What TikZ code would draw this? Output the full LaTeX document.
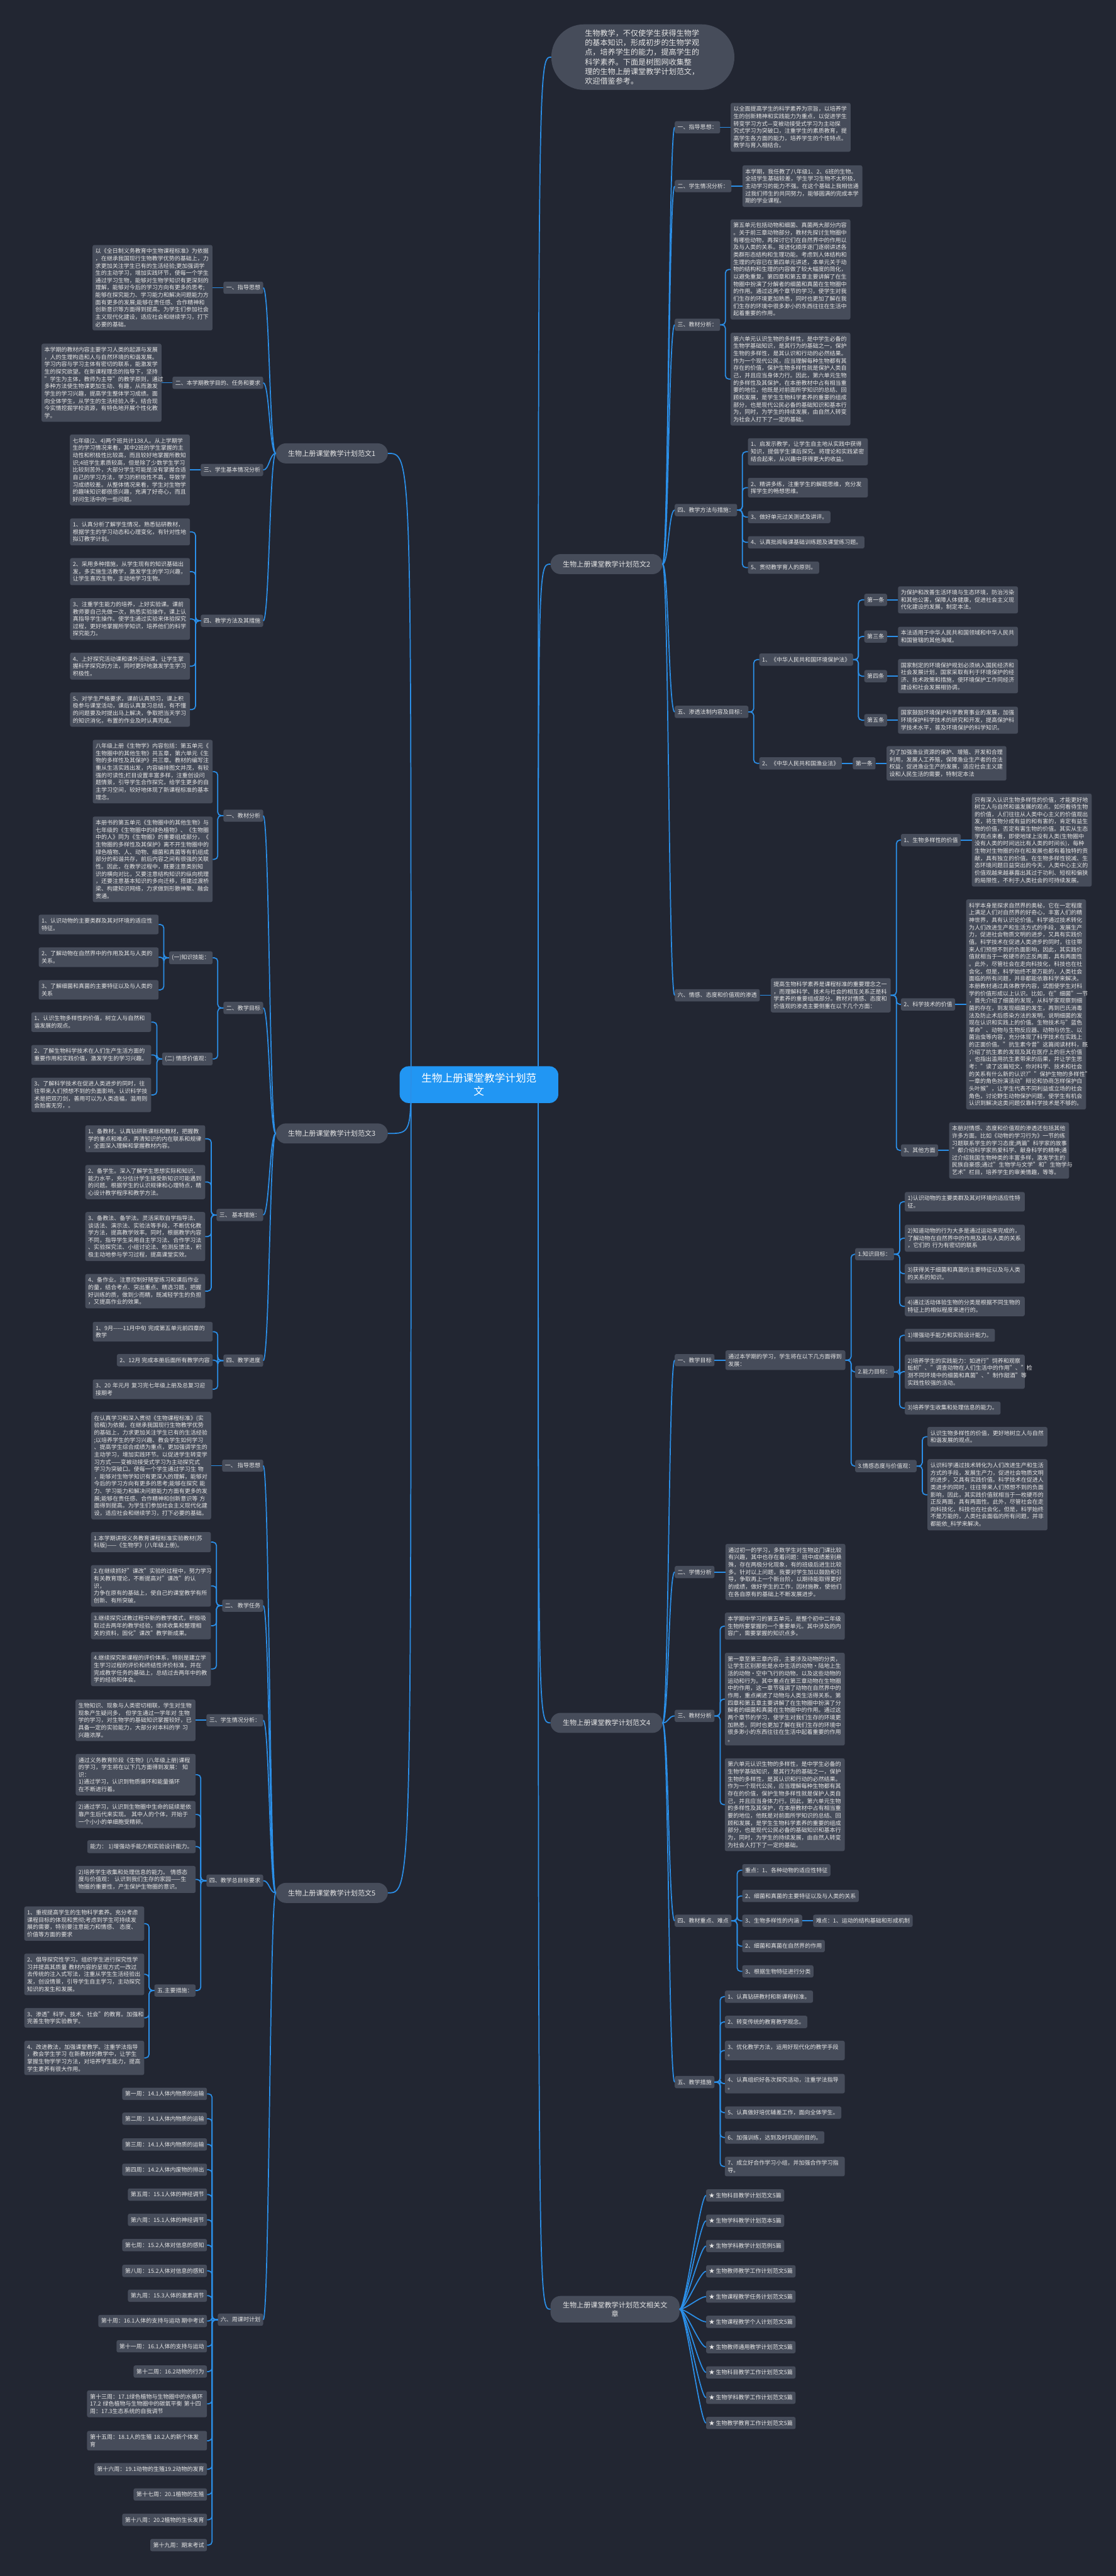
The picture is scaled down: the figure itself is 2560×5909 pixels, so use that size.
\documentclass[tikz,border=0pt]{standalone}
\usepackage{fontspec}
\setmainfont{Noto Sans CJK SC}
\usetikzlibrary{positioning,calc}
\definecolor{bgc}{HTML}{222632}
\definecolor{boxc}{HTML}{464C5A}
\definecolor{linec}{HTML}{2B8FE8}
\definecolor{rootc}{HTML}{2196F3}
\definecolor{txtc}{HTML}{E6E6E6}

\begin{document}
\begin{tikzpicture}[x=1pt, y=-1pt,
    every node/.style={font=\fontsize{13}{16.8}\selectfont, text=txtc},
    box/.style={fill=boxc, rounded corners=4pt, inner xsep=6.5pt, inner ysep=8pt},
    txt/.style={box, text width=262pt, align=left},
    main/.style={fill=boxc, rounded corners=23pt, font=\fontsize{16}{20}\selectfont, inner xsep=28pt, minimum height=46pt, align=center},
    rootbox/.style={fill=rootc, text=white, rounded corners=20pt, font=\fontsize{24}{30}\selectfont, align=center, inner xsep=50pt, inner ysep=16pt},
    introbox/.style={fill=boxc, rounded corners=75pt, font=\fontsize{17.5}{22}\selectfont, text width=266pt, align=left, inner xsep=77pt, inner ysep=12pt},
    link/.style={draw=linec, line width=2.5pt},
    elbow/.style={link, rounded corners=8pt}]

\fill[bgc] (0,0) rectangle (2560,5909);
\useasboundingbox (0,0) rectangle (2560,5909);

% centre and intro
\node[rootbox] (root) at (1099,2488) {生物上册课堂教学计划范\\文};
\node[introbox] (intro) at (1475,131) {生物教学，不仅使学生获得生物学\\的基本知识，形成初步的生物学观\\点，培养学生的能力，提高学生的\\科学素养。下面是树图网收集整\\理的生物上册课堂教学计划范文，\\欢迎借鉴参考。};

% level one
\node[main, anchor=west] (p2) at (1263,1294) {生物上册课堂教学计划范文2};
\node[main, anchor=west] (p4) at (1263,3952) {生物上册课堂教学计划范文4};
\node[main, anchor=west, minimum height=61pt] (p6) at (1263,5297) {生物上册课堂教学计划范文相关文\\章};
\node[main, anchor=east] (p1) at (890,1040) {生物上册课堂教学计划范文1};
\node[main, anchor=east] (p3) at (890,2600) {生物上册课堂教学计划范文3};
\node[main, anchor=east] (p5) at (890,4342) {生物上册课堂教学计划范文5};

% ---------- 范文2 ----------
\node[box, anchor=west] (a1) at (1548,292) {一、指导思想：};
\node[txt, right=24pt of a1] (a1t) {以全面提高学生的科学素养为宗旨，以培养学\\生的创新精神和实践能力为重点，以促进学生\\转变学习方式—变被动接受式学习为主动探\\究式学习为突破口，注重学生的素质教育，提\\高学生各方面的能力，培养学生的个性特点。\\教学与育入相结合。};
\node[box, anchor=west] (a2) at (1548,427) {二、学生情况分析：};
\node[txt, right=25pt of a2] (a2t) {本学期，我任教了八年级1、2、6班的生物。\\全班学生基础较差，学生学习生物不太积极，\\主动学习的能力不强。在这个基础上我相信通\\过我们师生的共同努力，能够圆满的完成本学\\期的学业课程。};
\node[box, anchor=west] (a3) at (1548,745) {三、教材分析：};
\node[txt, anchor=north west] (a3t1) at (1676,503) {第五单元包括动物和细菌、真菌两大部分内容\\。关于前三章动物部分，教材先探讨生物圈中\\有哪些动物，再探讨它们在自然界中的作用以\\及与人类的关系。按进化顺序逐门逐纲讲述各\\类群形态结构和生理功能。考虑到人体结构和\\生理的内容已在第四单元讲述，本单元关于动\\物的结构和生理的内容做了较大幅度的简化，\\以避免重复。第四章和第五章主要讲解了在生\\物圈中扮演了分解者的细菌和真菌在生物圈中\\的作用。通过这两个章节的学习，使学生对我\\们生存的环境更加熟悉，同时也更加了解在我\\们生存的环境中很多渺小的东西往往在生活中\\起着重要的作用。};
\node[txt, anchor=north west] (a3t2) at (1676,763) {第六单元认识生物的多样性，是中学生必备的\\生物学基础知识，是其行为的基础之一，保护\\生物的多样性，是其认识和行动的必然结果。\\作为一个现代公民，应当理解每种生物都有其\\存在的价值，保护生物多样性就是保护人类自\\己，并且应当身体力行。因此，第六单元生物\\的多样性及其保护，在本册教材中占有相当重\\要的地位，他既是对前面所学知识的总结、回\\顾和发展，是学生生物科学素养的重要的组成\\部分，也是现代公民必备的基础知识和基本行\\为，同时，为学生的持续发展，由自然人转变\\为社会人打下了一定的基础。};
\node[box, anchor=west] (a4) at (1548,1170) {四、教学方法与措施：};
\node[txt, anchor=north west] (a4i1) at (1716,1005) {1、启发示教学，让学生自主地从实践中获得\\知识，提倡学生课后探究。将理论和实践紧密\\结合起来，从兴趣中获得更大的收益。};
\node[txt, anchor=north west] (a4i2) at (1716,1096) {2、精讲多练，注重学生的解题思维，充分发\\挥学生的畅想思维。};
\node[box, anchor=west] (a4i3) at (1716,1186) {3、做好单元过关测试及讲评。};
\node[box, anchor=west] (a4i4) at (1716,1244) {4、认真批阅每课基础训练题及课堂练习题。};
\node[box, anchor=west] (a4i5) at (1716,1302) {5、贯彻教学育人的原则。};
\node[box, anchor=west] (a5) at (1548,1633) {五、渗透法制内容及目标：};
\node[box, anchor=west] (a5b1) at (1742,1513) {1、《中华人民共和国环境保护法》};
\node[box, anchor=west] (k1) at (1983,1376) {第一条};
\node[txt, right=25pt of k1] (k1t) {为保护和改善生活环境与生态环境，防治污染\\和其他公害，保障人体健康，促进社会主义现\\代化建设的发展，制定本法。};
\node[box, anchor=west] (k3) at (1983,1460) {第三条};
\node[txt, right=25pt of k3] (k3t) {本法适用于中华人民共和国领域和中华人民共\\和国管辖的其他海域。};
\node[box, anchor=west] (k4) at (1983,1551) {第四条};
\node[txt, right=25pt of k4] (k4t) {国家制定的环境保护规划必须纳入国民经济和\\社会发展计划，国家采取有利于环境保护的经\\济、技术政策和措施，使环境保护工作同经济\\建设和社会发展相协调。};
\node[box, anchor=west] (k5) at (1983,1652) {第五条};
\node[txt, right=25pt of k5] (k5t) {国家鼓励环境保护科学教育事业的发展，加强\\环境保护科学技术的研究和开发，提高保护科\\学技术水平，普及环境保护的科学知识。};
\node[box, anchor=west] (a5b2) at (1742,1751) {2、《中华人民共和国渔业法》};
\node[box, right=25pt of a5b2] (y1) {第一条};
\node[txt, right=25pt of y1] (y1t) {为了加强渔业资源的保护、增殖、开发和合理\\利用，发展人工养殖，保障渔业生产者的合法\\权益，促进渔业生产的发展，适应社会主义建\\设和人民生活的需要，特制定本法};
\node[box, anchor=west] (a6) at (1548,2283) {六、情感、态度和价值观的渗透};
\node[txt, right=25pt of a6] (a6t) {提高生物科学素养是课程标准的重要理念之一\\，而理解科学、技术与社会的相互关系正是科\\学素养的重要组成部分。教材对情感、态度和\\价值观的渗透主要侧重在以下几个方面：};
\node[box, anchor=west] (v1) at (2067,1927) {1、生物多样性的价值};
\node[txt, right=25pt of v1] (v1t) {只有深入认识生物多样性的价值，才能更好地\\树立人与自然和谐发展的观点。如何看待生物\\的价值，人们往往从人类中心主义的价值观出\\发，将生物分成有益的和有害的，肯定有益生\\物的价值，否定有害生物的价值。其实从生态\\学观点来看，即使地球上没有人类(生物圈中\\没有人类的时间远比有人类的时间长)，每种\\生物对生物圈的存在和发展也都有着独特的贡\\献，具有独立的价值。在生物多样性锐减、生\\态环境问题日益突出的今天，人类中心主义的\\价值观越来越暴露出其过于功利、短视和偏狭\\的局限性，不利于人类社会的可持续发展。};
\node[box, anchor=west] (v2) at (2067,2304) {2、科学技术的价值};
\node[txt, right=25pt of v2] (v2t) {科学本身是探求自然界的奥秘，它在一定程度\\上满足人们对自然界的好奇心，丰富人们的精\\神世界，具有认识论价值。科学通过技术转化\\为人们改进生产和生活方式的手段，发展生产\\力，促进社会物质文明的进步，又具有实践价\\值。科学技术在促进人类进步的同时，往往带\\来人们预想不到的负面影响，因此，其实践价\\值就相当于一枚硬币的正反两面，具有两面性\\。此外，尽管社会在走向科技化，科技也在社\\会化，但是，科学始终不是万能的，人类社会\\面临的所有问题，并非都能依靠科学来解决。\\本册教材通过具体教学内容，试图使学生对科\\学的价值形成以上认识。比如，在"细菌"一节\\，首先介绍了细菌的发现，从科学家观察到细\\菌的存在，到发现细菌的发生，再到巴氏消毒\\法及防止术后感染方法的发明，说明细菌的发\\现在认识和实践上的价值。生物技术与"蓝色\\革命"、动物与生物反应器、动物与仿生、以\\菌治虫等内容，充分体现了科学技术在实践上\\的正面价值。"抗生素今昔"这篇阅读材料，既\\介绍了抗生素的发现及其在医疗上的巨大价值\\，也指出滥用抗生素带来的后果，并让学生思\\考："读了这篇短文，你对科学、技术和社会\\的关系有什么新的认识?""保护生物的多样性"\\一章的角色扮演活动"辩论和协商怎样保护白\\头叶猴"，让学生代表不同利益或立场的社会\\角色，讨论野生动物保护问题，使学生有机会\\认识到解决这类问题仅靠科学技术是不够的。};
\node[box, anchor=west] (v3) at (2067,2639) {3、其他方面};
\node[txt, right=25pt of v3] (v3t) {本册对情感、态度和价值观的渗透还包括其他\\许多方面。比如《动物的学习行为》一节的练\\习题联系学生的学习态度;两篇"科学家的故事\\"都介绍科学家热爱科学、献身科学的精神;通\\过介绍我国生物种类的丰富多样，激发学生的\\民族自豪感;通过"生物学与文学"和"生物学与\\艺术"栏目，培养学生的审美情趣，等等。};

% ---------- 范文4 ----------
\node[box, anchor=west] (b1) at (1548,3120) {一、教学目标};
\node[txt, right=25pt of b1] (b1t) {通过本学期的学习，学生将在以下几方面得到\\发展：};
\node[box, anchor=west] (b1k) at (1962,2877) {1.知识目标：};
\node[txt, anchor=north west] (b1k1) at (2076,2734) {1)认识动物的主要类群及其对环境的适应性特\\征。};
\node[txt, anchor=north west] (b1k2) at (2076,2809) {2)知道动物的行为大多是通过运动来完成的，\\了解动物在自然界中的作用及其与人类的关系\\，它们的 行为有密切的联系};
\node[txt, anchor=north west] (b1k3) at (2076,2899) {3)获得关于细菌和真菌的主要特征以及与人类\\的关系的知识。};
\node[txt, anchor=north west] (b1k4) at (2076,2974) {4)通过活动体验生物的分类是根据不同生物的\\特征上的相似程度来进行的。};
\node[box, anchor=west] (b1n) at (1962,3147) {2.能力目标：};
\node[box, anchor=west] (b1n1) at (2076,3063) {1)增强动手能力和实验设计能力。};
\node[txt, anchor=north west] (b1n2) at (2076,3107) {2)培养学生的实践能力：如进行"饲养和观察\\蚯蚓"、"调查动物在人们生活中的作用"、"检\\测不同环境中的细菌和真菌"、"制作甜酒"等\\实践性较强的活动。};
\node[box, anchor=west] (b1n3) at (2076,3230) {3)培养学生收集和处理信息的能力。};
\node[box, anchor=west] (b1q) at (1962,3363) {3.情感态度与价值观：};
\node[txt, anchor=north west] (b1q1) at (2128,3273) {认识生物多样性的价值，更好地树立人与自然\\和谐发展的观点。};
\node[txt, anchor=north west] (b1q2) at (2128,3347) {认识科学通过技术转化为人们改进生产和生活\\方式的手段，发展生产力，促进社会物质文明\\的进步，又具有实践价值。科学技术在促进人\\类进步的同时，往往带来人们预想不到的负面\\影响，因此，其实践价值就相当于一枚硬币的\\正反两面，具有两面性。此外，尽管社会在走\\向科技化，科技也在社会化，但是，科学始终\\不是万能的，人类社会面临的所有问题，并非\\都能依\_科学来解决。};
\node[box, anchor=west] (b2) at (1548,3606) {二、学情分析};
\node[txt, right=25pt of b2] (b2t) {通过初一的学习，多数学生对生物这门课比较\\有兴趣，其中也存在着问题：班中成绩差别悬\\殊，存在两极分化现象，有的班级后进生比较\\多。针对以上问题，我要对学生加以鼓励和引\\导，争取再上一个新台阶，以期待能取得更好\\的成绩，做好学生的工作，因材施教，使他们\\在各自原有的基础上不断发展进步。};
\node[box, anchor=west] (b3) at (1548,3936) {三、教材分析};
\node[txt, anchor=north west] (b3t1) at (1663,3699) {本学期中学习的第五单元，是整个初中二年级\\生物所要掌握的一个重要单元。其中涉及的内\\容广，需要掌握的知识点多。};
\node[txt, anchor=north west] (b3t2) at (1663,3791) {第一章至第三章内容，主要涉及动物的分类，\\让学生区别那些是水中生活的动物·陆地上生\\活的动物·空中飞行的动物，以及这些动物的\\运动和行为。其中重点在第三章动物在生物圈\\中的作用，这一章节强调了动物在自然界中的\\作用，重点阐述了动物与人类生活得关系。第\\四章和第五章主要讲解了在生物圈中扮演了分\\解者的细菌和真菌在生物圈中的作用。通过这\\两个章节的学习，使学生对我们生存的环境更\\加熟悉，同时也更加了解在我们生存的环境中\\很多渺小的东西往往在生活中起着重要的作用\\。};
\node[txt, anchor=north west] (b3t3) at (1663,4033) {第六单元认识生物的多样性，是中学生必备的\\生物学基础知识，是其行为的基础之一，保护\\生物的多样性，是其认识和行动的必然结果。\\作为一个现代公民，应当理解每种生物都有其\\存在的价值，保护生物多样性就是保护人类自\\己，并且应当身体力行。因此，第六单元生物\\的多样性及其保护，在本册教材中占有相当重\\要的地位，他既是对前面所学知识的总结、回\\顾和发展，是学生生物科学素养的重要的组成\\部分，也是现代公民必备的基础知识和基本行\\为，同时，为学生的持续发展，由自然人转变\\为社会人打下了一定的基础。};
\node[box, anchor=west] (b4) at (1548,4406) {四、教材重点、难点};
\node[box, anchor=west] (b4i1) at (1703,4290) {重点：1、各种动物的适应性特征};
\node[box, anchor=west] (b4i2) at (1703,4349) {2、细菌和真菌的主要特征以及与人类的关系};
\node[box, anchor=west] (b4i3) at (1703,4406) {3、生物多样性的内涵};
\node[box, right=25pt of b4i3] (b4x) {难点：1、运动的结构基础和形成机制};
\node[box, anchor=west] (b4i4) at (1703,4464) {2、细菌和真菌在自然界的作用};
\node[box, anchor=west] (b4i5) at (1703,4522) {3、根据生物特征进行分类};
\node[box, anchor=west] (b5) at (1548,4776) {五、教学措施};
\node[box, anchor=west] (b5i1) at (1663,4580) {1、认真钻研教村和新课程标准。};
\node[box, anchor=west] (b5i2) at (1663,4638) {2、转变传统的教育教学观念。};
\node[txt, anchor=north west] (b5i3) at (1663,4681) {3、优化教学方法，运用好现代化的教学手段\\。};
\node[txt, anchor=north west] (b5i4) at (1663,4757) {4、认真组织好各次探究活动，注重学法指导\\。};
\node[box, anchor=west] (b5i5) at (1663,4846) {5、认真做好培优辅差工作，面向全体学生。};
\node[box, anchor=west] (b5i6) at (1663,4903) {6、加强训练，达到及时巩固的目的。};
\node[txt, anchor=north west] (b5i7) at (1663,4947) {7、成立好合作学习小组，并加强合作学习指\\导。};

% ---------- related ----------
\node[box, anchor=west] (r1) at (1620,5036) {★ 生物科目教学计划范文5篇};
\node[box, anchor=west] (r2) at (1620,5094) {★ 生物学科教学计划范本5篇};
\node[box, anchor=west] (r3) at (1620,5152) {★ 生物学科教学计划范例5篇};
\node[box, anchor=west] (r4) at (1620,5210) {★ 生物教师教学工作计划范文5篇};
\node[box, anchor=west] (r5) at (1620,5268) {★ 生物课程教学任务计划范文5篇};
\node[box, anchor=west] (r6) at (1620,5326) {★ 生物课程教学个人计划范文5篇};
\node[box, anchor=west] (r7) at (1620,5384) {★ 生物教师通用教学计划范文5篇};
\node[box, anchor=west] (r8) at (1620,5442) {★ 生物科目教学工作计划范文5篇};
\node[box, anchor=west] (r9) at (1620,5500) {★ 生物学科教学工作计划范文5篇};
\node[box, anchor=west] (r10) at (1620,5558) {★ 生物教学教育工作计划范文5篇};

% ---------- 范文1 ----------
\node[box, anchor=east] (c1) at (604,660) {一、指导思想};
\node[txt, left=25pt of c1] (c1t) {以《全日制义务教育中生物课程标准》为依据\\，在继承我国现行生物教学优势的基础上，力\\求更加关注学生已有的生活经验;更加强调学\\生的主动学习，增加实践环节，使每一个学生\\通过学习生物，能够对生物学知识有更深刻的\\理解，能够对今后的学习方向有更多的思考;\\能够在探究能力、学习能力和解决问题能力方\\面有更多的发展;能够在责任感、合作精神和\\创新意识等方面得到提高。为学生们参加社会\\主义现代化建设，适应社会和继续学习，打下\\必要的基础。};
\node[box, anchor=east] (c2) at (604,878) {二、本学期教学目的、任务和要求};
\node[txt, left=25pt of c2] (c2t) {本学期的教材内容主要学习人类的起源与发展\\，人的生理构造和人与自然环境的和谐发展。\\学习内容与学习主体有密切的联系，能激发学\\生的探究欲望。在新课程理念的指导下，坚持\\"学生为主体，教师为主导"的教学原则，通过\\多种方法使生物课更加生动、有趣，从而激发\\学生的学习兴趣，提高学生整体学习成绩。面\\向全体学生，从学生的生活经验入手，结合现\\今实情挖掘学校资源，有特色地开展个性化教\\学。};
\node[box, anchor=east] (c3) at (604,1078) {三、学生基本情况分析};
\node[txt, left=25pt of c3] (c3t) {七年级(2、4)两个班共计138人。从上学期学\\生的学习情况来看，其中2班的学生掌握的主\\动性和积极性比较高，而且较好地掌握所教知\\识;4班学生素质较高，但是除了少数学生学习\\比较刻苦外，大部分学生可能是没有掌握合适\\自己的学习方法，学习的积极性不高，导致学\\习成绩较差。从整体情况来看，学生对生物学\\的趣味知识都很感兴趣，充满了好奇心，而且\\好问生活中的一些问题。};
\node[box, anchor=east] (c4) at (604,1424) {四、教学方法及其措施};
\node[txt, anchor=north east] (c4i1) at (436,1189) {1、认真分析了解学生情况，熟悉钻研教材，\\根据学生的学习动态和心理变化，有针对性地\\拟订教学计划。};
\node[txt, anchor=north east] (c4i2) at (436,1280) {2、采用多种措施，从学生现有的知识基础出\\发，多实施生活教学，激发学生的学习兴趣，\\让学生喜欢生物，主动地学习生物。};
\node[txt, anchor=north east] (c4i3) at (436,1372) {3、注重学生能力的培养，上好实验课。课前\\教师要自己先做一次，熟悉实验操作，课上认\\真指导学生操作。使学生通过实验来体验探究\\过程，更好地掌握所学知识，培养他们的科学\\探究能力。};
\node[txt, anchor=north east] (c4i4) at (436,1497) {4、上好探究活动课和课外活动课，让学生掌\\握科学探究的方法，同时更好地激发学生学习\\积极性。};
\node[txt, anchor=north east] (c4i5) at (436,1588) {5、对学生严格要求，课前认真预习，课上积\\极参与课堂活动，课后认真复习总结，有不懂\\的问题要及时提出马上解决，争取把当天学习\\的知识消化，布置的作业及时认真完成。};

% ---------- 范文3 ----------
\node[box, anchor=east] (d1) at (604,1871) {一、教材分析};
\node[txt, anchor=north east] (d1t1) at (488,1697) {八年级上册《生物学》内容包括：第五单元《\\生物圈中的其他生物》共五章，第六单元《生\\物的多样性及其保护》共三章。教材的编写注\\重从生活实践出发，内容编排图文并茂，有较\\强的可读性;栏目设置丰富多样，注重创设问\\题情景，引导学生合作探究，给学生更多的自\\主学习空间，较好地体现了新课程标准的基本\\理念。};
\node[txt, anchor=north east] (d1t2) at (488,1873) {本册书的第五单元《生物圈中的其他生物》与\\七年级的《生物圈中的绿色植物》、《生物圈\\中的人》同为《生物圈》的重要组成部分，《\\生物圈的多样性及其保护》离不开生物圈中的\\绿色植物、人、动物、细菌和真菌等有机组成\\部分的和谐共存，前后内容之间有很强的关联\\性。因此，在教学过程中，既要注意类别知\\识的横向对比，又要注意结构知识的纵向梳理\\，还要注意基本知识的多向迁移，搭建过渡桥\\梁、构建知识网络，力求做到形散神聚、融会\\贯通。};
\node[box, anchor=east] (d2) at (604,2312) {二、教学目标};
\node[box, anchor=east] (d2k) at (488,2197) {(一)知识技能：};
\node[txt, anchor=north east] (d2k1) at (364,2098) {1、认识动物的主要类群及其对环境的适应性\\特征。};
\node[txt, anchor=north east] (d2k2) at (364,2173) {2、了解动物在自然界中的作用及其与人类的\\关系。};
\node[txt, anchor=north east] (d2k3) at (364,2248) {3、了解细菌和真菌的主要特征以及与人类的\\关系};
\node[box, anchor=east] (d2q) at (488,2429) {(二) 情感价值观：};
\node[txt, anchor=north east] (d2q1) at (347,2322) {1、认识生物多样性的价值，树立人与自然和\\谐发展的观点。};
\node[txt, anchor=north east] (d2q2) at (347,2397) {2、了解生物科学技术在人们生产生活方面的\\重要作用和实践价值，激发学生的学习兴趣。};
\node[txt, anchor=north east] (d2q3) at (347,2472) {3、了解科学技术在促进人类进步的同时，往\\往带来人们预想不到的负面影响，认识科学技\\术是把双刃剑，善用可以为人类造福，滥用则\\会贻害无穷，。};
\node[box, anchor=east] (d3) at (604,2787) {三、 基本措施：};
\node[txt, anchor=north east] (d3i1) at (471,2581) {1、备教材。认真钻研新课标和教材，把握教\\学的重点和难点，弄清知识的内在联系和规律\\，全面深入理解和掌握教材内容。};
\node[txt, anchor=north east] (d3i2) at (471,2672) {2、备学生。深入了解学生思想实际和知识、\\能力水平，充分估计学生接受新知识可能遇到\\的问题。根据学生的认识规律和心理特点，精\\心设计教学程序和教学方法。};
\node[txt, anchor=north east] (d3i3) at (471,2780) {3、备教法、备学法。灵活采取自学指导法、\\谈话法、演示法、实验法等手段，不断优化教\\学方法，提高教学效率。同时，根据教学内容\\不同，指导学生采用自主学习法、合作学习法\\、实验探究法、小组讨论法、检测反馈法，积\\极主动地参与学习过程，提高课堂实效。};
\node[txt, anchor=north east] (d3i4) at (471,2922) {4、备作业。注意控制好随堂练习和课后作业\\的量，结合考点、突出重点、精选习题，把握\\好训练的质，做到少而精，既减轻学生的负担\\，又提高作业的效果。};
\node[box, anchor=east] (d4) at (604,3121) {四、教学进度};
\node[txt, anchor=north east] (d4i1) at (488,3032) {1、9月{-}{-}{-}{-}{-}11月中旬 完成第五单元前四章的\\教学};
\node[box, anchor=east] (d4i2) at (488,3120) {2、12月 完成本册后面所有教学内容};
\node[txt, anchor=north east] (d4i3) at (488,3164) {3、20 年元月 复习完七年级上册及总复习迎\\接期考};

% ---------- 范文5 ----------
\node[box, anchor=east] (e1) at (604,3362) {一、 指导思想};
\node[txt, left=25pt of e1] (e1t) {在认真学习和深入贯彻《生物课程标准》(实\\验稿)为依据，在继承我国现行生物教学优势\\的基础上，力求更加关注学生已有的生活经验\\;以培养学生的学习兴趣、教会学生如何学习\\、提高学生综合成绩为重点，更加强调学生的\\主动学习，增加实践环节。以促进学生转变学\\习方式——变被动接受式学习为主动探究式\\学习为突破口。使每一个学生通过学习生 物\\，能够对生物学知识有更深入的理解，能够对\\今后的学习方向有更多的思考;能够在探究 能\\力、学习能力和解决问题能力方面有更多的发\\展;能够在责任感、合作精神和创新意识等 方\\面得到提高。为学生们参加社会主义现代化建\\设，适应社会和继续学习，打下必要的基础。};
\node[box, anchor=east] (e2) at (604,3683) {二、 教学任务};
\node[txt, anchor=north east] (e2i1) at (484,3514) {1.本学期讲授义务教育课程标准实验教材(苏\\科版)——《生物学》(八年级上册)。};
\node[txt, anchor=north east] (e2i2) at (484,3590) {2.在继续抓好"课改"实验的过程中，努力学习\\有关教育理论，不断提高对"课改"的认 识，\\力争在原有的基础上，使自己的课堂教学有所\\创新、有所突破。};
\node[txt, anchor=north east] (e2i3) at (484,3698) {3.继续探究试教过程中新的教学模式，积极吸\\取过去两年的教学经验，继续收集和整理相\\关的资料，固化"课改"教学新成果。};
\node[txt, anchor=north east] (e2i4) at (484,3789) {4.继续探究新课程的评价体系，特别是建立学\\生学习过程的评价和终结性评价标准，并在\\完成教学任务的基础上，总结过去两年中的教\\学的经验和体会。};
\node[box, anchor=east] (e3) at (604,3946) {三、学生情况分析：};
\node[txt, left=25pt of e3] (e3t) {生物知识、现象与人类密切相联，学生对生物\\现象产生疑问多， 但学生通过一学年对 生物\\学的学习，对生物学的基础知识掌握较好，已\\具备一定的实验能力，大部分对本科的学 习\\兴趣浓厚。};
\node[box, anchor=east] (e4) at (604,4314) {四、教学总目标要求};
\node[txt, anchor=north east] (e4i1) at (449,4023) {通过义务教育阶段《生物》(八年级上册)课程\\的学习，学生将在以下几方面得到发展： 知\\识： 1)通过学习，认识到物质循环和能量循环\\在不断进行着。};
\node[txt, anchor=north east] (e4i2) at (449,4131) {2)通过学习，认识到生物圈中生命的延续是依\\靠产生后代来实现。 其中人的个体，开始于\\一个小小的单细胞受精卵。};
\node[box, anchor=east] (e4i3) at (449,4236) {能力： 1)增强动手能力和实验设计能力。};
\node[txt, anchor=north east] (e4i4) at (449,4280) {2)培养学生收集和处理信息的能力。 情感态\\度与价值观： 认识到我们生存的家园——生\\物圈的重要性，产生保护生物圈的意识。};
\node[box, anchor=east] (e4m) at (449,4566) {五.主要措施：};
\node[txt, anchor=north east] (m1) at (331,4373) {1、重视提高学生的生物科学素养。充分考虑\\课程目标的体现和贯彻;考虑到学生可持续发\\展的需要，特别要注意能力和情感、 态度、\\价值等方面的要求};
\node[txt, anchor=north east] (m2) at (331,4481) {2、倡导探究性学习。组织学生进行探究性学\\习并提高其质量 教材内容的呈现方式一改过\\去传统的注入式写法，注重从学生生活经验出\\发，创设情景，引导学生自主学习，主动探究\\知识的发生和发展。};
\node[txt, anchor=north east] (m3) at (331,4606) {3、渗透"科学、技术、社会"的教育。加强和\\完善生物学实验教学。};
\node[txt, anchor=north east] (m4) at (331,4681) {4、改进教法，加强课堂教学。注重学法指导\\，教会学生学习 在新教材的教学中，让学生\\掌握生物学学习方法，对培养学生能力，提高\\学生素养有很大作用。};
\node[box, anchor=east] (e6) at (604,5321) {六、周课时计划};
\node[box, anchor=east] (w1) at (475,4803) {第一周：14.1人体内物质的运输};
\node[box, anchor=east] (w2) at (475,4860) {第二周：14.1人体内物质的运输};
\node[box, anchor=east] (w3) at (475,4919) {第三周：14.1人体内物质的运输};
\node[box, anchor=east] (w4) at (475,4977) {第四周：14.2人体内废物的排出};
\node[box, anchor=east] (w5) at (475,5034) {第五周：15.1人体的神经调节};
\node[box, anchor=east] (w6) at (475,5092) {第六周：15.1人体的神经调节};
\node[box, anchor=east] (w7) at (475,5150) {第七周：15.2人体对信息的感知};
\node[box, anchor=east] (w8) at (475,5209) {第八周：15.2人体对信息的感知};
\node[box, anchor=east] (w9) at (475,5266) {第九周：15.3人体的激素调节};
\node[box, anchor=east] (w10) at (475,5324) {第十周：16.1人体的支持与运动 期中考试};
\node[box, anchor=east] (w11) at (475,5382) {第十一周：16.1人体的支持与运动};
\node[box, anchor=east] (w12) at (475,5440) {第十二周：16.2动物的行为};
\node[txt, anchor=north east] (w13) at (475,5483) {第十三周：17.1绿色植物与生物圈中的水循环\\ 17.2 绿色植物与生物圈中的碳氧平衡 第十四\\周：17.3生态系统的自我调节};
\node[txt, anchor=north east] (w14) at (475,5576) {第十五周：18.1人的生殖 18.2人的新个体发\\育};
\node[box, anchor=east] (w15) at (475,5664) {第十六周：19.1动物的生殖19.2动物的发育};
\node[box, anchor=east] (w16) at (475,5722) {第十七周：20.1植物的生殖};
\node[box, anchor=east] (w17) at (475,5780) {第十八周：20.2植物的生长发育};
\node[box, anchor=east] (w18) at (475,5838) {第十九周：期末考试};

% ---------- connectors ----------
\coordinate (rtR) at ([xshift=136pt]root.north);
\coordinate (rbR) at ([xshift=136pt]root.south);
\coordinate (rtL) at ([xshift=-156pt]root.north);
\coordinate (rbL) at ([xshift=-156pt]root.south);
\foreach \n in {intro,p2} \draw[link] (rtR) .. controls (rtR |- \n.west) .. (\n.west);
\foreach \n in {p4,p6} \draw[link] (rbR) .. controls (rbR |- \n.west) .. (\n.west);
\foreach \n in {p1,p3} \draw[link] (rtL) .. controls (rtL |- \n.east) .. (\n.east);
\draw[link] (rbL) .. controls (rbL |- p5.east) .. (p5.east);

\foreach \n in {a1,a2,a3,a4,a5,a6} \draw[link] (p2.east) .. controls +(14,0) and +(-14,0) .. (\n.west);
\foreach \n in {b1,b2,b3,b4,b5} \draw[link] (p4.east) .. controls +(14,0) and +(-14,0) .. (\n.west);
\foreach \n in {r1,r2,r3,r4,r5,r6,r7,r8,r9,r10} \draw[link] (p6.east) .. controls +(14,0) and +(-14,0) .. (\n.west);
\foreach \n in {c1,c2,c3,c4} \draw[link] (p1.west) .. controls +(-14,0) and +(14,0) .. (\n.east);
\foreach \n in {d1,d2,d3,d4} \draw[link] (p3.west) .. controls +(-14,0) and +(14,0) .. (\n.east);
\foreach \n in {e1,e2,e3,e4,e6} \draw[link] (p5.west) .. controls +(-14,0) and +(14,0) .. (\n.east);

% right side branches
\foreach \a/\b in {a1/a1t,a2/a2t,a6/a6t,k1/k1t,k3/k3t,k4/k4t,k5/k5t,a5b2/y1,y1/y1t,v1/v1t,v2/v2t,v3/v3t,b1/b1t,b2/b2t,b4i3/b4x}
  \draw[link] (\a.east) -- (\b.west);
\foreach \n in {a3t1,a3t2} \draw[elbow] (a3.east) -- ++(12,0) |- (\n.west);
\foreach \n in {a4i1,a4i2,a4i3,a4i4,a4i5} \draw[elbow] (a4.east) -- ++(12,0) |- (\n.west);
\foreach \n in {a5b1,a5b2} \draw[elbow] (a5.east) -- ++(12,0) |- (\n.west);
\foreach \n in {k1,k3,k4,k5} \draw[elbow] (a5b1.east) -- ++(12,0) |- (\n.west);
\foreach \n in {v1,v2,v3} \draw[elbow] (a6t.east) -- ++(13,0) |- (\n.west);
\foreach \n in {b1k,b1n,b1q} \draw[elbow] (b1t.east) -- ++(13,0) |- (\n.west);
\foreach \n in {b1k1,b1k2,b1k3,b1k4} \draw[elbow] (b1k.east) -- ++(13,0) |- (\n.west);
\foreach \n in {b1n1,b1n2,b1n3} \draw[elbow] (b1n.east) -- ++(13,0) |- (\n.west);
\foreach \n in {b1q1,b1q2} \draw[elbow] (b1q.east) -- ++(13,0) |- (\n.west);
\foreach \n in {b3t1,b3t2,b3t3} \draw[elbow] (b3.east) -- ++(13,0) |- (\n.west);
\foreach \n in {b4i1,b4i2,b4i3,b4i4,b4i5} \draw[elbow] (b4.east) -- ++(13,0) |- (\n.west);
\foreach \n in {b5i1,b5i2,b5i3,b5i4,b5i5,b5i6,b5i7} \draw[elbow] (b5.east) -- ++(13,0) |- (\n.west);

% left side branches
\foreach \a/\b in {c1/c1t,c2/c2t,c3/c3t,e1/e1t,e3/e3t}
  \draw[link] (\a.west) -- (\b.east);
\foreach \n in {c4i1,c4i2,c4i3,c4i4,c4i5} \draw[elbow] (c4.west) -- ++(-12,0) |- (\n.east);
\foreach \n in {d1t1,d1t2} \draw[elbow] (d1.west) -- ++(-13,0) |- (\n.east);
\foreach \n in {d2k,d2q} \draw[elbow] (d2.west) -- ++(-13,0) |- (\n.east);
\foreach \n in {d2k1,d2k2,d2k3} \draw[elbow] (d2k.west) -- ++(-12,0) |- (\n.east);
\foreach \n in {d2q1,d2q2,d2q3} \draw[elbow] (d2q.west) -- ++(-12,0) |- (\n.east);
\foreach \n in {d3i1,d3i2,d3i3,d3i4} \draw[elbow] (d3.west) -- ++(-12,0) |- (\n.east);
\foreach \n in {d4i1,d4i2,d4i3} \draw[elbow] (d4.west) -- ++(-13,0) |- (\n.east);
\foreach \n in {e2i1,e2i2,e2i3,e2i4} \draw[elbow] (e2.west) -- ++(-13,0) |- (\n.east);
\foreach \n in {e4i1,e4i2,e4i3,e4i4,e4m} \draw[elbow] (e4.west) -- ++(-13,0) |- (\n.east);
\foreach \n in {m1,m2,m3,m4} \draw[elbow] (e4m.west) -- ++(-12,0) |- (\n.east);
\foreach \n in {w1,w2,w3,w4,w5,w6,w7,w8,w9,w10,w11,w12,w13,w14,w15,w16,w17,w18} \draw[elbow] (e6.west) -- ++(-13,0) |- (\n.east);
\end{tikzpicture}
\end{document}
